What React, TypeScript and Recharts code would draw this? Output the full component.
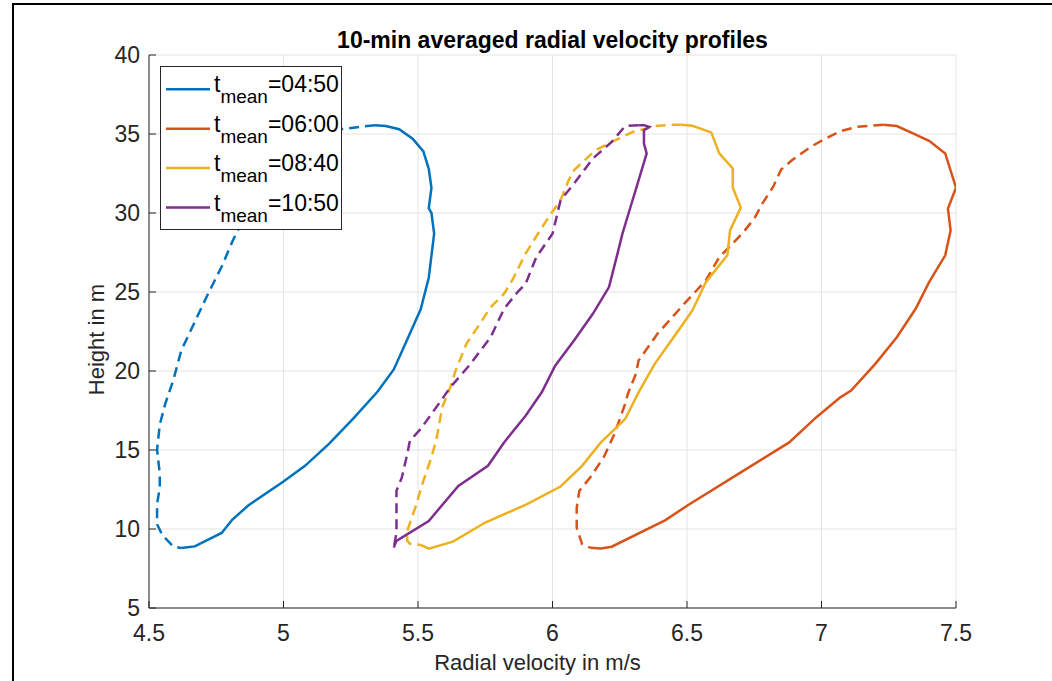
import { CartesianGrid, Label, Legend, Line, LineChart, XAxis, YAxis } from "recharts";

// [radial velocity (m/s), height (m)] — solid branch runs bottom→top, dashed branch top→bottom
const solid0450 = [
  [4.62, 8.8], [4.67, 8.9], [4.77, 9.75], [4.81, 10.6], [4.87, 11.5], [5.0, 13.0], [5.08, 14.0],
  [5.17, 15.4], [5.26, 17.0], [5.35, 18.7], [5.41, 20.1], [5.46, 22.0], [5.51, 23.9], [5.54, 25.9],
  [5.55, 27.3], [5.56, 28.7], [5.55, 30.0], [5.54, 30.3], [5.55, 31.6], [5.54, 32.8], [5.52, 33.9],
  [5.48, 34.7], [5.43, 35.3], [5.38, 35.5], [5.34, 35.56],
];
const dashed0450 = [
  [5.34, 35.56], [5.21, 35.3], [5.08, 34.5], [4.99, 33.4], [4.92, 32.0], [4.87, 30.4], [4.83, 28.9],
  [4.81, 28.2], [4.77, 26.6], [4.72, 24.9], [4.67, 23.1], [4.62, 21.3], [4.59, 19.4], [4.56, 17.9],
  [4.54, 16.6], [4.53, 15.0], [4.54, 13.5], [4.54, 12.6], [4.53, 11.6], [4.53, 10.3], [4.55, 9.6],
  [4.59, 8.9], [4.62, 8.8],
];

const solid0600 = [
  [6.14, 8.82], [6.18, 8.76], [6.22, 8.88], [6.42, 10.56], [6.5, 11.47], [6.7, 13.58], [6.88, 15.48],
  [6.98, 17.06], [7.07, 18.33], [7.11, 18.76], [7.2, 20.45], [7.28, 22.14], [7.35, 23.94], [7.4, 25.62],
  [7.46, 27.32], [7.48, 28.9], [7.47, 30.28], [7.5, 31.6], [7.46, 33.77], [7.4, 34.57], [7.33, 35.12],
  [7.28, 35.5], [7.23, 35.58],
];
const dashed0600 = [
  [7.23, 35.58], [7.13, 35.45], [7.07, 35.18], [7.01, 34.67], [6.96, 34.19], [6.89, 33.34], [6.85, 32.75],
  [6.82, 31.65], [6.78, 30.6], [6.75, 29.64], [6.71, 28.8], [6.67, 28.06], [6.62, 27.21], [6.57, 25.73],
  [6.49, 24.26], [6.39, 22.35], [6.32, 20.66], [6.31, 19.82], [6.28, 18.55], [6.27, 17.91], [6.23, 16.01],
  [6.19, 14.53], [6.14, 13.26], [6.1, 12.42], [6.09, 11.36], [6.09, 10.09], [6.11, 9.04], [6.14, 8.82],
];

const solid0840 = [
  [5.51, 8.99], [5.54, 8.76], [5.63, 9.2], [5.75, 10.41], [5.9, 11.53], [6.03, 12.69], [6.11, 14.0],
  [6.18, 15.48], [6.27, 16.96], [6.32, 18.65], [6.38, 20.45], [6.47, 22.61], [6.52, 23.83], [6.57, 25.62],
  [6.65, 27.32], [6.66, 28.9], [6.7, 30.34], [6.67, 31.61], [6.67, 32.82], [6.62, 33.77], [6.59, 35.1],
  [6.52, 35.52], [6.48, 35.58],
];
const dashed0840 = [
  [6.48, 35.58], [6.45, 35.58], [6.37, 35.5], [6.35, 35.35], [6.3, 35.14], [6.22, 34.5], [6.16, 33.98],
  [6.08, 32.71], [6.06, 32.07], [6.03, 30.81], [5.99, 29.85], [5.95, 28.8], [5.9, 27.43], [5.85, 25.73],
  [5.82, 24.89], [5.77, 24.04], [5.73, 22.99], [5.68, 21.72], [5.64, 20.03], [5.62, 18.97], [5.59, 17.7],
  [5.57, 15.8], [5.55, 14.53], [5.52, 13.05], [5.49, 11.36], [5.46, 9.88], [5.46, 9.25], [5.47, 9.07],
  [5.51, 8.99],
];

const solid1050 = [
  [5.41, 8.82], [5.42, 9.25], [5.54, 10.51], [5.65, 12.73], [5.76, 14.0], [5.82, 15.48], [5.9, 17.17],
  [5.96, 18.65], [6.01, 20.34], [6.08, 21.93], [6.15, 23.62], [6.21, 25.31], [6.24, 27.32], [6.26, 28.69],
  [6.29, 30.38], [6.32, 32.07], [6.35, 33.77], [6.34, 34.4], [6.34, 35.24], [6.36, 35.45], [6.34, 35.56],
  [6.32, 35.56],
];
const dashed1050 = [
  [6.32, 35.56], [6.27, 35.5], [6.22, 34.5], [6.15, 33.45], [6.08, 31.86], [6.03, 30.81], [6.0, 28.69],
  [5.94, 27.21], [5.9, 25.52], [5.87, 24.99], [5.82, 23.94], [5.77, 22.14], [5.69, 20.34], [5.62, 18.97],
  [5.59, 18.23], [5.51, 16.33], [5.47, 15.59], [5.46, 14.74], [5.44, 13.26], [5.42, 12.42], [5.42, 11.15],
  [5.42, 9.77], [5.41, 8.82],
];

const velocityTicks = [4.5, 5, 5.5, 6, 6.5, 7, 7.5];
const heightTicks = [5, 10, 15, 20, 25, 30, 35, 40];

const series = [
  { name: "04:50", color: "#0072BD", solid: solid0450, dashed: dashed0450 },
  { name: "06:00", color: "#D95319", solid: solid0600, dashed: dashed0600 },
  { name: "08:40", color: "#EDB120", solid: solid0840, dashed: dashed0840 },
  { name: "10:50", color: "#7E2F8E", solid: solid1050, dashed: dashed1050 },
];

const toPoints = (pairs: number[][]) => pairs.map(([v, h]) => ({ v, h }));

const INK = "#262626";
const FONT = "'Liberation Sans', Arial, sans-serif";
const TICK_FONT = 23;

function LegendBox(props: any) {
  const items = (props.payload || []).filter((p: any) => p.type !== "none");
  return (
    <div
      style={{
        width: 182,
        height: 164,
        boxSizing: "border-box",
        border: `1px solid ${INK}`,
        background: "#fff",
      }}
    >
      <svg width={180} height={162} style={{ display: "block", fontFamily: FONT }}>
        {items.map((p: any, i: number) => {
          const y = 22.3 + i * 39.4;
          return (
            <g key={p.value}>
              <line x1={5} x2={49} y1={y} y2={y} stroke={p.color} strokeWidth={2.5} />
              <text x={53} y={y + 3} fontSize={23} fill="#000">
                t
                <tspan fontSize={19} dy={11}>mean</tspan>
                <tspan fontSize={23} dy={-11}>={p.value}</tspan>
              </text>
            </g>
          );
        })}
      </svg>
    </div>
  );
}

export default function App() {
  return (
    <div
      style={{
        position: "absolute",
        left: 0,
        top: 0,
        width: 1052,
        height: 681,
        overflow: "hidden",
        background: "#fff",
        fontFamily: FONT,
      }}
    >
      {/* figure frame */}
      <div
        style={{
          position: "absolute",
          left: 12,
          top: 3,
          width: 1040,
          height: 678,
          borderLeft: "2px solid #000",
          borderTop: "2px solid #000",
        }}
      />
      <div
        style={{
          position: "absolute",
          left: 149,
          width: 807,
          top: 27,
          lineHeight: "26px",
          textAlign: "center",
          fontSize: 23,
          fontWeight: "bold",
          color: "#000",
        }}
      >
        10-min averaged radial velocity profiles
      </div>
      <div style={{ position: "absolute", left: 0, top: 0 }}>
        <LineChart
          width={1052}
          height={681}
          margin={{ top: 55, right: 96, bottom: 33, left: 43 }}
          style={{ fontFamily: FONT }}
        >
          <CartesianGrid stroke="#e3e3e3" strokeWidth={1} />
          <XAxis
            type="number"
            dataKey="v"
            domain={[4.5, 7.5]}
            ticks={velocityTicks}
            allowDataOverflow
            height={40}
            tickSize={-7}
            tickMargin={24}
            stroke={INK}
            fontSize={TICK_FONT}
            tick={{ fill: INK, fontSize: TICK_FONT }}
            tickFormatter={(v: number) => String(v)}
          >
            <Label
              value="Radial velocity in m/s"
              position="bottom"
              offset={6}
              dx={-15}
              fill={INK}
              fontSize={22}
            />
          </XAxis>
          <XAxis
            xAxisId="top"
            orientation="top"
            type="number"
            dataKey="v"
            domain={[4.5, 7.5]}
            ticks={velocityTicks}
            allowDataOverflow
            height={0}
            tickSize={-7}
            stroke={INK}
            tickFormatter={() => ""}
          />
          <YAxis
            type="number"
            dataKey="h"
            domain={[5, 40]}
            ticks={heightTicks}
            allowDataOverflow
            width={106}
            tickSize={-7}
            tickMargin={16}
            stroke={INK}
            fontSize={TICK_FONT}
            tick={{ fill: INK, fontSize: TICK_FONT }}
          >
            <Label value="Height in m" angle={-90} position="center" dy={8} fill={INK} fontSize={22} />
          </YAxis>
          <YAxis
            yAxisId="right"
            orientation="right"
            type="number"
            dataKey="h"
            domain={[5, 40]}
            ticks={heightTicks}
            allowDataOverflow
            width={0}
            tickSize={-7}
            stroke={INK}
            tickFormatter={() => ""}
          />
          <Legend
            layout="vertical"
            align="center"
            verticalAlign="middle"
            content={<LegendBox />}
            wrapperStyle={{ left: 160, top: 66, width: "auto", height: "auto" }}
          />
          {series.flatMap((s) => [
            <Line
              key={`${s.name}-solid`}
              data={toPoints(s.solid)}
              dataKey="h"
              name={s.name}
              type="linear"
              stroke={s.color}
              strokeWidth={2.5}
              dot={false}
              activeDot={false}
              isAnimationActive={false}
            />,
            <Line
              key={`${s.name}-dashed`}
              data={toPoints(s.dashed)}
              dataKey="h"
              name={`${s.name} dashed`}
              legendType="none"
              type="linear"
              stroke={s.color}
              strokeWidth={2.5}
              strokeDasharray="10 6"
              dot={false}
              activeDot={false}
              isAnimationActive={false}
            />,
          ])}
        </LineChart>
      </div>
    </div>
  );
}
